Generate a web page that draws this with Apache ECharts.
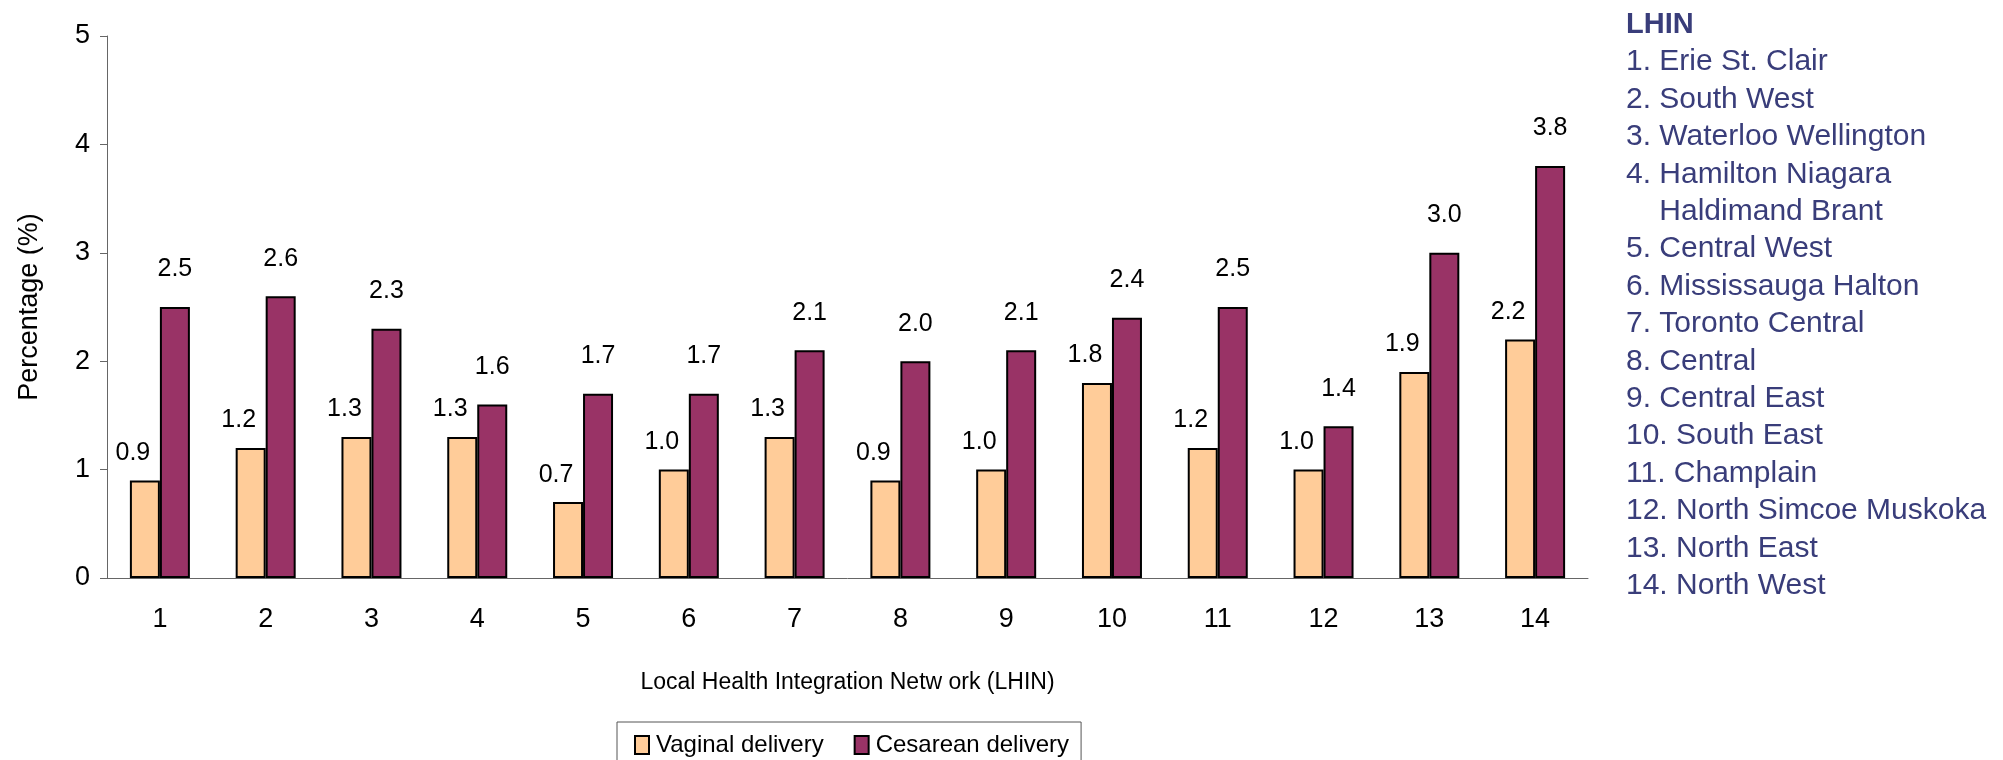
<!DOCTYPE html>
<html>
<head>
<meta charset="utf-8">
<script src="https://cdn.jsdelivr.net/npm/echarts@6/dist/echarts.min.js"></script>
<style>
  html, body { margin: 0; padding: 0; background: #fff; }
  #chart { width: 2003px; height: 760px; }
</style>
</head>
<body>
<div id="chart"></div>
<script>
const categories = ['1', '2', '3', '4', '5', '6', '7', '8', '9', '10', '11', '12', '13', '14'];
const vaginal = [0.9, 1.2, 1.3, 1.3, 0.7, 1.0, 1.3, 0.9, 1.0, 1.8, 1.2, 1.0, 1.9, 2.2];
const cesarean = [2.5, 2.6, 2.3, 1.6, 1.7, 1.7, 2.1, 2.0, 2.1, 2.4, 2.5, 1.4, 3.0, 3.8];
const lhinNames = [
  '1. Erie St. Clair',
  '2. South West',
  '3. Waterloo Wellington',
  '4. Hamilton Niagara',
  '    Haldimand Brant',
  '5. Central West',
  '6. Mississauga Halton',
  '7. Toronto Central',
  '8. Central',
  '9. Central East',
  '10. South East',
  '11. Champlain',
  '12. North Simcoe Muskoka',
  '13. North East',
  '14. North West'
];

const sans = '"Liberation Sans", Arial, sans-serif';

let chart = echarts.init(document.getElementById('chart'));

function fmt(p) {
  return Number(p.value).toFixed(1);
}

let option = {
  animation: false,
  grid: { left: 107, right: 415, top: 36, bottom: 182 },
  legend: {
    left: 617,
    top: 722,
    padding: [11, 12, 10, 17],
    borderColor: '#555',
    borderWidth: 1,
    itemWidth: 14,
    itemHeight: 18,
    itemGap: 30,
    icon: 'rect',
    textStyle: { fontFamily: sans, fontSize: 24, color: '#000', padding: [0, 0, 0, 2] },
    data: ['Vaginal delivery', 'Cesarean delivery']
  },
  xAxis: {
    type: 'category',
    data: categories,
    name: 'Local Health Integration Netw ork (LHIN)',
    nameLocation: 'middle',
    nameGap: 93,
    nameTextStyle: { fontFamily: sans, fontSize: 23, color: '#000' },
    axisLine: { lineStyle: { color: '#666', width: 1 } },
    axisTick: { length: 9, lineStyle: { color: '#666' } },
    axisLabel: { margin: 28, fontFamily: sans, fontSize: 27, color: '#000' }
  },
  yAxis: {
    type: 'value',
    min: 0,
    max: 5,
    interval: 1,
    name: 'Percentage (%)',
    nameLocation: 'middle',
    nameGap: 64,
    nameTextStyle: { fontFamily: sans, fontSize: 27, color: '#000' },
    splitLine: { show: false },
    axisLine: { show: true, lineStyle: { color: '#666', width: 1 } },
    axisTick: { show: true, length: 7, lineStyle: { color: '#666' } },
    axisLabel: { margin: 17, fontFamily: sans, fontSize: 27, color: '#000' }
  },
  series: [
    {
      name: 'Vaginal delivery',
      type: 'bar',
      data: vaginal,
      barWidth: 30,
      barGap: '0%',
      itemStyle: { color: '#FFCC99', borderColor: '#000', borderWidth: 2 },
      label: {
        show: true,
        position: 'top',
        distance: 15,
        offset: [-12, 0],
        formatter: fmt,
        fontFamily: sans,
        fontSize: 25,
        color: '#000'
      }
    },
    {
      name: 'Cesarean delivery',
      type: 'bar',
      data: cesarean,
      barWidth: 30,
      itemStyle: { color: '#993366', borderColor: '#000', borderWidth: 2 },
      label: {
        show: true,
        position: 'top',
        distance: 25,
        formatter: fmt,
        fontFamily: sans,
        fontSize: 25,
        color: '#000'
      }
    }
  ],
  graphic: [
    {
      type: 'text',
      left: 1626,
      top: 6,
      style: {
        text: '{b|LHIN}\n' + lhinNames.join('\n'),
        fontFamily: sans,
        fontSize: 30,
        lineHeight: 37.4,
        fill: '#393d7a',
        rich: {
          b: { fontFamily: sans, fontSize: 29, fontWeight: 'bold', fill: '#393d7a', lineHeight: 37.4 }
        }
      }
    }
  ]
};

chart.setOption(option);
</script>
</body>
</html>
